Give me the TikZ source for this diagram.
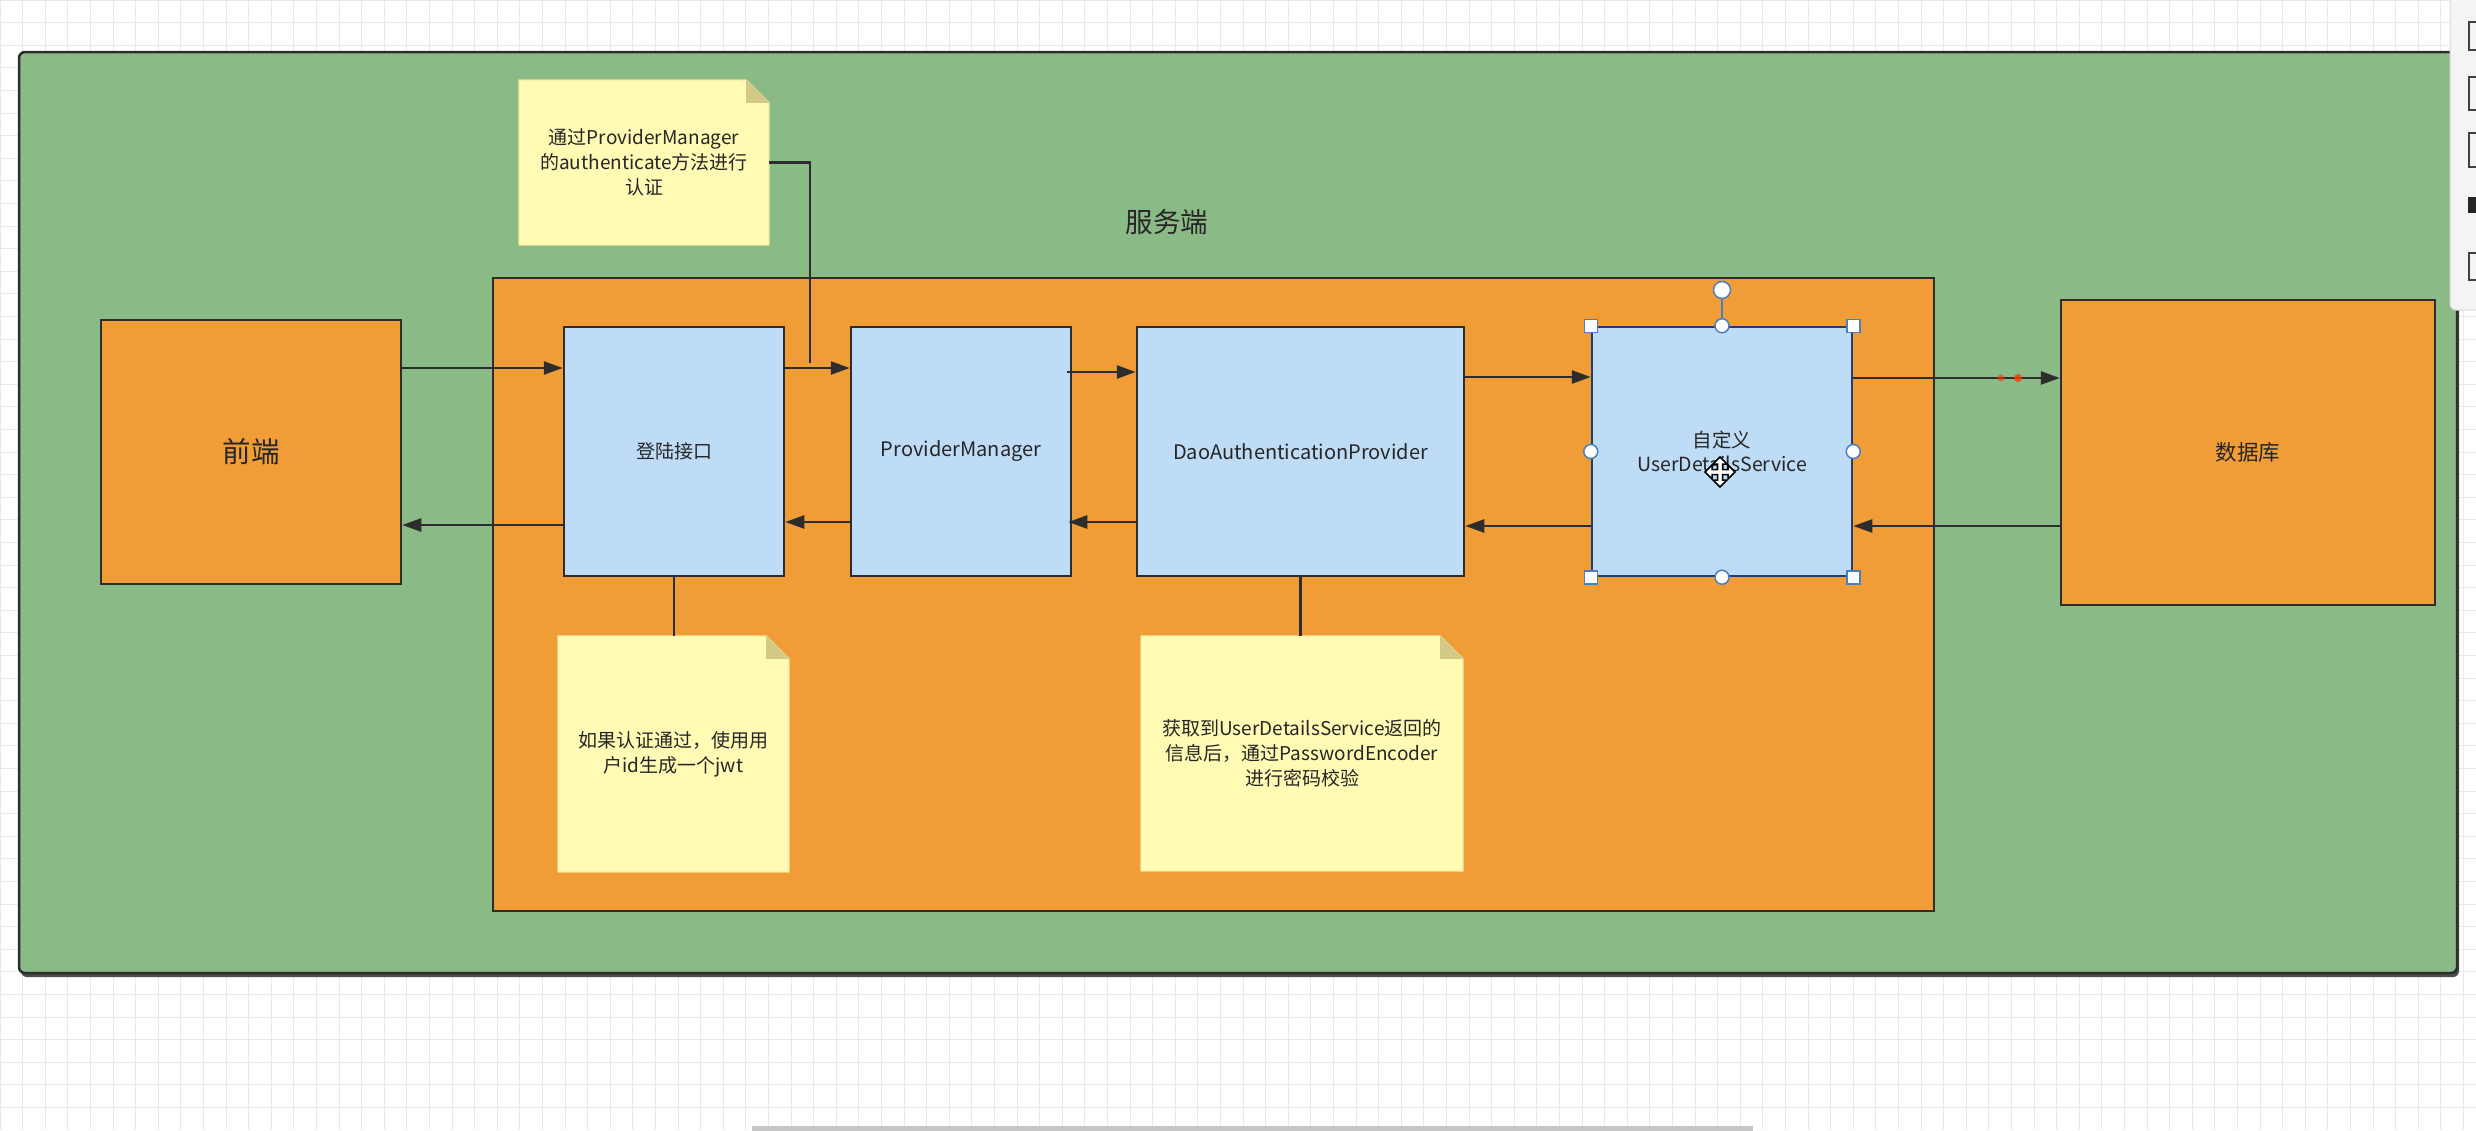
\documentclass[tikz,border=0pt]{standalone}
\usepackage{fontspec}
\setmainfont{Noto Sans CJK SC}
\usetikzlibrary{arrows.meta,calc}
\definecolor{bggreen}{HTML}{8ABA86}
\definecolor{orangef}{HTML}{F09D38}
\definecolor{bluef}{HTML}{BFDCF7}
\definecolor{notef}{HTML}{FFFAB4}
\definecolor{notee}{HTML}{EEE49A}
\definecolor{foldf}{HTML}{D3C984}
\definecolor{linec}{HTML}{2D2D2D}
\definecolor{textc}{HTML}{262626}
\definecolor{selc}{HTML}{23406C}
\definecolor{handlec}{HTML}{4A7EC2}
\definecolor{gridc}{HTML}{E9E9E9}
\definecolor{panelc}{HTML}{F4F4F4}
\begin{document}
\begin{tikzpicture}[x=1pt,y=-1pt,
  box/.style={draw=linec, line width=2.5pt, inner sep=0pt, text=textc},
  orangebox/.style={box, fill=orangef},
  bluebox/.style={box, fill=bluef, font=\fontsize{19}{24}\selectfont},
  notebox/.style={inner sep=0pt, text=textc, align=center, font=\fontsize{19}{25}\selectfont},
  arr/.style={draw=linec, line width=2.5pt, -{Triangle[length=19pt,width=13pt]}},
  link/.style={draw=linec, line width=2.5pt},
  handlesq/.style={draw=handlec, fill=white, line width=1.5pt, minimum size=13pt, inner sep=0pt},
  handleci/.style={draw=handlec, fill=white, line width=1.5pt, circle, minimum size=14pt, inner sep=0pt}]
\useasboundingbox (0,0) rectangle (2476,1130);
% background grid
\fill[white] (0,0) rectangle (2476,1130);
\foreach \x in {0,22.6,...,2476} \draw[gridc, line width=0.8pt] (\x,0) -- (\x,1130);
\foreach \y in {0,22.6,...,1130} \draw[gridc, line width=0.8pt] (0,\y) -- (2476,\y);
% outer server area
\fill[black!70, rounded corners=6pt] (21,55) rectangle (2459,977);
\draw[fill=bggreen, draw=linec, line width=2.5pt, rounded corners=6pt] (19,52) rectangle (2457,973);
\node[text=textc, font=\fontsize{27.5}{30}\selectfont] (srvlabel) at (1167,222) {服务端};
% inner orange area
\node[orangebox, minimum width=1441pt, minimum height=633pt] (server) at (1213.5,594.5) {};
% main nodes
\node[orangebox, minimum width=300pt, minimum height=264pt, font=\fontsize{28.5}{32}\selectfont] (front) at (251,452) {前端};
\node[bluebox, minimum width=220pt, minimum height=249pt] (login) at (674,451.5) {登陆接口};
\node[bluebox, minimum width=220pt, minimum height=249pt, font=\fontsize{20}{24}\selectfont] (pm) at (961,451.5) {ProviderManager};
\node[bluebox, minimum width=327pt, minimum height=249pt, font=\fontsize{20}{24}\selectfont] (dao) at (1300.5,451.5) {DaoAuthenticationProvider};
\node[bluebox, draw=selc, minimum width=260pt, minimum height=249pt, align=center, font=\fontsize{19.5}{24}\selectfont] (uds) at (1722,451.5) {自定义\\UserDetailsService};
\node[orangebox, minimum width=374pt, minimum height=305pt, font=\fontsize{21.5}{24}\selectfont] (db) at (2248,452.5) {数据库};
% notes
\foreach \n/\cx/\cy/\w/\h/\t in {
  note1/644/162.5/250/165/{通过ProviderManager\\的authenticate方法进行\\认证},
  note2/673.5/754/231/236/{如果认证通过，使用用\\户id生成一个jwt},
  note3/1302/753.5/322/235/{获取到UserDetailsService返回的\\信息后，通过PasswordEncoder\\进行密码校验}} {
  \node[notebox, minimum width=\w pt, minimum height=\h pt] (\n) at (\cx,\cy) {};
  \filldraw[fill=notef, draw=notee, line width=1pt] (\n.south west) -- (\n.north west) -- ([xshift=-23pt]\n.north east) -- ([yshift=-23pt]\n.north east) -- (\n.south east) -- cycle;
  \fill[foldf] ([xshift=-23pt]\n.north east) -- ([xshift=-23pt,yshift=-23pt]\n.north east) -- ([yshift=-23pt]\n.north east) -- cycle;
  \node[notebox] at (\n.center) {\t};
}
% arrows
\draw[arr] (front.east |- 0,368) -- (login.west |- 0,368);
\draw[arr] (login.west |- 0,525) -- (front.east |- 0,525);
\draw[arr] (login.east |- 0,368) -- (pm.west |- 0,368);
\draw[arr] (pm.west |- 0,522) -- (login.east |- 0,522);
\draw[arr] ([xshift=-5pt]pm.east |- 0,372) -- (dao.west |- 0,372);
\draw[arr] (dao.west |- 0,522) -- ([xshift=-4pt]pm.east |- 0,522);
\draw[arr] (dao.east |- 0,377) -- (uds.west |- 0,377);
\draw[arr] (uds.west |- 0,526) -- (dao.east |- 0,526);
\draw[arr] (uds.east |- 0,378) -- (db.west |- 0,378);
\draw[arr] (db.west |- 0,526) -- (uds.east |- 0,526);
% note connectors
\coordinate (n1end) at (810,363);
\draw[link] (note1.east) -| (n1end);
\draw[link] (login.south) -- (note2.north -| login.south);
\draw[link] (dao.south) -- (note3.north -| dao.south);
% faint red marks on database arrow
\fill[red!55!orange, opacity=0.6] (2001,378) circle (3.5pt);
\fill[red!55!orange, opacity=0.8] (2018,378) circle (4pt);
% selection handles on uds
\coordinate (rot) at (1722,290);
\draw[handlec, line width=1.5pt] (uds.north) -- (rot);
\node[handleci, minimum size=17pt] (roth) at (rot) {};
\foreach \a in {north west,north east,south west,south east} \node[handlesq] at (uds.\a) {};
\foreach \a in {north,south,east,west} \node[handleci] at (uds.\a) {};
% move cursor
\coordinate (cur) at (1720,472);
\filldraw[fill=white, draw=black, line width=1.5pt, shift={(cur)}]
  (15,0) -- (8,-7) -- (8,-2.5) -- (2.5,-2.5) -- (2.5,-8) -- (7,-8) -- (0,-15) -- (-7,-8) -- (-2.5,-8) -- (-2.5,-2.5)
  -- (-8,-2.5) -- (-8,-7) -- (-15,0) -- (-8,7) -- (-8,2.5) -- (-2.5,2.5) -- (-2.5,8) -- (-7,8) -- (0,15) -- (7,8)
  -- (2.5,8) -- (2.5,2.5) -- (8,2.5) -- (8,7) -- cycle;
% right toolbar panel
\filldraw[fill=panelc, draw=black!15, line width=1pt, rounded corners=6pt] (2450,-10) rectangle (2490,310);
\foreach \ya/\yb in {22/50,77/110,133/167,253/280} \draw[black!75, line width=2pt] (2469,\ya) rectangle (2485,\yb);
\fill[black!85] (2468,197) rectangle (2480,213);
% bottom scrollbar
\fill[black!22] (752,1126) rectangle (1753,1132);
\end{tikzpicture}
\end{document}
